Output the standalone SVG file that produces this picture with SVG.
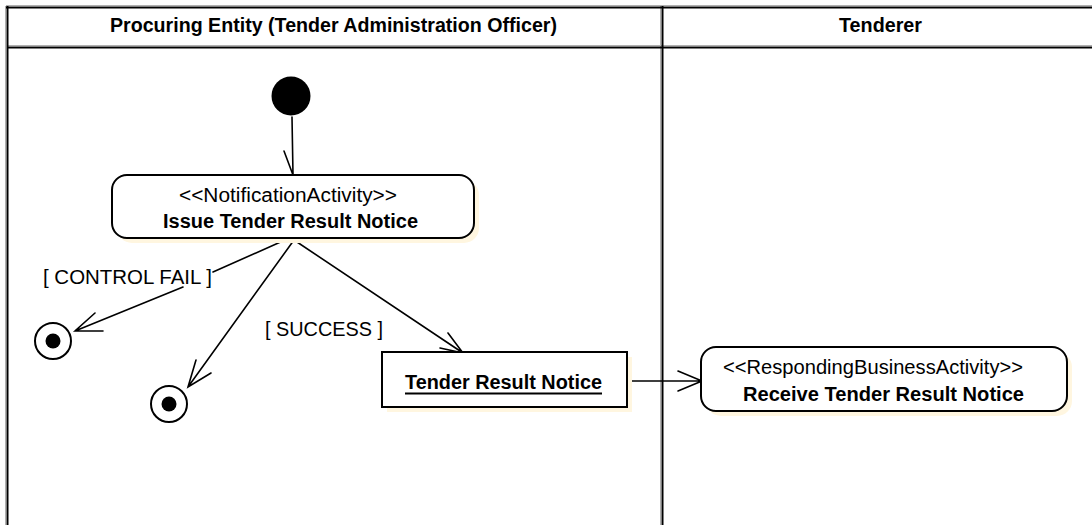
<svg xmlns="http://www.w3.org/2000/svg" width="1092" height="525" viewBox="0 0 1092 525">
  <style>
    .lane-title { font-family: "Liberation Sans", Arial, sans-serif; font-size: 19.5px; font-weight: bold; fill: #000; }
    .stereo { font-family: "Liberation Sans", Arial, sans-serif; font-size: 19.5px; fill: #000; }
    .name { font-family: "Liberation Sans", Arial, sans-serif; font-size: 19.5px; font-weight: bold; fill: #000; }
    .guard { font-family: "Liberation Sans", Arial, sans-serif; font-size: 19.5px; fill: #000; }
    .frame { stroke: #000; stroke-width: 2; fill: none; }
    .frame-shade { stroke: #b0b0b0; stroke-width: 1; fill: none; }
    .box { fill: #fff; stroke: #000; stroke-width: 2; }
    .shadow { fill: #fff6e0; }
    .edge { stroke: #000; stroke-width: 1.6; fill: none; stroke-linecap: round; }
  </style>

  <rect x="0" y="0" width="1092" height="525" fill="#fff"/>

  <!-- swimlane frame -->
  <g id="lanes">
    <line class="frame-shade" x1="6" y1="5.5" x2="1092" y2="5.5"/>
    <line class="frame-shade" x1="8" y1="45.5" x2="1092" y2="45.5"/>
    <line class="frame-shade" x1="5.5" y1="6" x2="5.5" y2="525"/>
    <line class="frame-shade" x1="660.5" y1="6" x2="660.5" y2="525"/>
    <line class="frame" x1="6" y1="7.5" x2="1092" y2="7.5"/>
    <line class="frame" x1="8" y1="47.5" x2="1092" y2="47.5"/>
    <line class="frame" x1="7.5" y1="6" x2="7.5" y2="525"/>
    <line class="frame" x1="662.5" y1="6" x2="662.5" y2="525"/>
    <text class="lane-title" x="333.5" y="32" text-anchor="middle" textLength="447" lengthAdjust="spacingAndGlyphs">Procuring Entity (Tender Administration Officer)</text>
    <text class="lane-title" x="880.5" y="32" text-anchor="middle" textLength="83" lengthAdjust="spacingAndGlyphs">Tenderer</text>
  </g>

  <!-- transitions -->
  <g id="connectors">
    <path class="edge" d="M292 117 L293 175 M284 151 L293 175"/>
    <path class="edge" d="M285 240 L213 272 M183 287 L75 331 M95 313 L75 331 L103 331"/>
    <path class="edge" d="M294 240 L188 387 M196 360 L188 387 L211 373"/>
    <path class="edge" d="M294 240 L463 353 M448 333 L463 353 L440 348"/>
    <path class="edge" d="M628 381 L702 381 M678 371 L702 381 L678 391"/>
    <text class="guard" x="43" y="284" textLength="169" lengthAdjust="spacingAndGlyphs">[ CONTROL FAIL ]</text>
    <text class="guard" x="265" y="336" textLength="118" lengthAdjust="spacingAndGlyphs">[ SUCCESS ]</text>
  </g>

  <g id="initial">
    <circle cx="291" cy="96" r="19.5" fill="#000"/>
  </g>

  <g id="issue-notice">
    <rect class="shadow" x="117" y="180" width="362" height="63" rx="15"/>
    <rect class="box" x="112" y="175" width="362" height="63" rx="15"/>
    <text class="stereo" x="288" y="202" text-anchor="middle" textLength="218" lengthAdjust="spacingAndGlyphs">&lt;&lt;NotificationActivity&gt;&gt;</text>
    <text class="name" x="290.5" y="228" text-anchor="middle" textLength="255" lengthAdjust="spacingAndGlyphs">Issue Tender Result Notice</text>
  </g>

  <g id="final-fail">
    <circle cx="53" cy="341" r="18" fill="#fff" stroke="#000" stroke-width="2"/>
    <circle cx="53" cy="341" r="7.5" fill="#000"/>
  </g>

  <g id="final-other">
    <circle cx="169" cy="404" r="18" fill="#fff" stroke="#000" stroke-width="2"/>
    <circle cx="169" cy="404" r="7.5" fill="#000"/>
  </g>

  <g id="result-notice">
    <rect class="shadow" x="387" y="357" width="245" height="55"/>
    <rect class="box" x="382" y="352" width="245" height="55"/>
    <text class="name" x="503.5" y="389" text-anchor="middle" textLength="197" lengthAdjust="spacingAndGlyphs">Tender Result Notice</text>
    <line x1="405" y1="393.5" x2="602" y2="393.5" stroke="#000" stroke-width="2"/>
  </g>

  <g id="receive-notice">
    <rect class="shadow" x="706" y="352" width="366" height="64" rx="15"/>
    <rect class="box" x="701" y="347" width="366" height="64" rx="15"/>
    <text class="stereo" x="873" y="374" text-anchor="middle" textLength="300" lengthAdjust="spacingAndGlyphs">&lt;&lt;RespondingBusinessActivity&gt;&gt;</text>
    <text class="name" x="883.5" y="401" text-anchor="middle" textLength="281" lengthAdjust="spacingAndGlyphs">Receive Tender Result Notice</text>
  </g>
</svg>
